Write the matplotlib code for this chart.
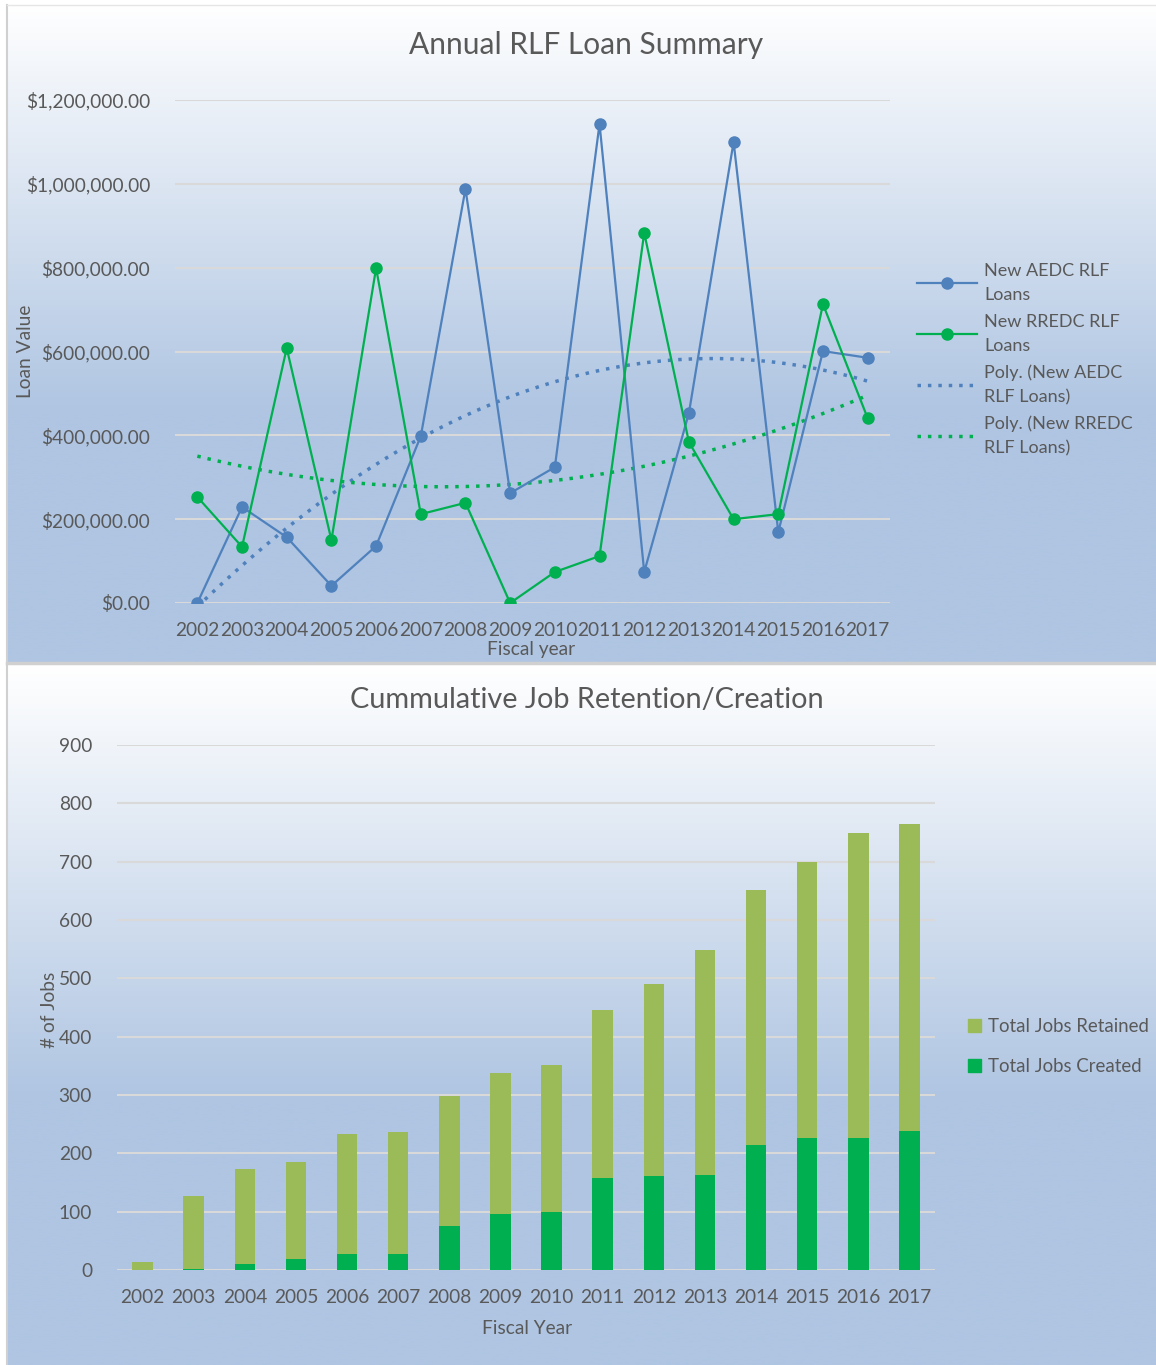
import numpy as np
import matplotlib
matplotlib.use("Agg")
import matplotlib.pyplot as plt
from matplotlib.colors import LinearSegmentedColormap
from matplotlib.lines import Line2D
from matplotlib.patches import Patch

plt.rcParams['font.family'] = ['Lato', 'DejaVu Sans']

years = [str(y) for y in range(2002, 2018)]

# annual loan values
aedc_loans = [0, 229000, 157000, 41000, 136000, 398000, 988000, 262000,
              324000, 1143000, 74000, 453000, 1100000, 169000, 601000, 585000]
rredc_loans = [253000, 134000, 608000, 150000, 799000, 212000, 239000, 0,
               74000, 112000, 883000, 384000, 200000, 212000, 713000, 441000]

# cumulative jobs
jobs_created = [0, 2, 10, 19, 27, 27, 76, 96, 99, 158, 161, 163, 215, 226, 226, 238]
jobs_total = [13, 127, 174, 185, 234, 237, 299, 338, 352, 445, 490, 548, 651, 700, 749, 764]
jobs_retained = [t - c for t, c in zip(jobs_total, jobs_created)]

blue = '#4f81bd'
green = '#00b050'
olive = '#9bbb59'
txt = '#595959'
grid = '#d9d9d9'
bg_blue = '#afc5e2'

W, H = 1156, 1365
fig = plt.figure(figsize=(W / 100, H / 100), dpi=100)
fig.patch.set_facecolor('white')

cmap = LinearSegmentedColormap.from_list('bg', [(0, 'white'), (0.62, bg_blue), (1, bg_blue)])


def panel(y0, y1):
    # gradient background in pixel coords (top y0, bottom y1)
    ax = fig.add_axes([7 / W, 1 - y1 / H, 1 - 7 / W, (y1 - y0) / H], zorder=0)
    grad = np.linspace(0, 1, 256).reshape(-1, 1)
    ax.imshow(grad, aspect='auto', cmap=cmap, extent=[0, 1, 0, 1], origin='upper')
    ax.set_axis_off()
    return ax


def ftext(px, py, s, **kw):
    fig.text(px / W, 1 - py / H, s, color=txt, ha='center', va='center', **kw)


panel(5, 662)
panel(665, 1365)
fig.add_artist(Line2D([7 / W, 7 / W], [0, 1 - 5 / H], color='#d0d0d0', lw=1.5))
fig.add_artist(Line2D([7 / W, 1], [1 - 663 / H, 1 - 663 / H], color='#d0d0d0', lw=2.5))
fig.add_artist(Line2D([7 / W, 1], [1 - 5 / H, 1 - 5 / H], color='#e6e6e6', lw=1))

# ---------- top chart ----------
ax1 = fig.add_axes([175 / W, 1 - 603 / H, 715 / W, 503 / H], zorder=2)
ax1.patch.set_alpha(0)
x = np.arange(len(years))
ax1.plot(x, aedc_loans, color=blue, lw=1.6, marker='o', ms=8, label='New AEDC RLF\nLoans', zorder=4)
ax1.plot(x, rredc_loans, color=green, lw=1.6, marker='o', ms=8, label='New RREDC RLF\nLoans', zorder=4)
xs = np.linspace(0, len(years) - 1, 200)
pa = np.polyfit(x, aedc_loans, 2)
pr = np.polyfit(x, rredc_loans, 2)
ax1.plot(xs, np.polyval(pa, xs), color=blue, lw=2.5, ls=(0, (1, 2)), label='Poly. (New AEDC\nRLF Loans)', zorder=3)
ax1.plot(xs, np.polyval(pr, xs), color=green, lw=2.5, ls=(0, (1, 2)), label='Poly. (New RREDC\nRLF Loans)', zorder=3)
ax1.set_xlim(-0.5, len(years) - 0.5)
ax1.set_ylim(0, 1200000)
ax1.set_yticks(np.arange(0, 1200001, 200000))
ax1.set_yticklabels(['${:,.2f}'.format(v) for v in np.arange(0, 1200001, 200000)])
ax1.set_xticks(x)
ax1.set_xticklabels(years)
ax1.grid(axis='y', color=grid, lw=1.5)
ax1.set_axisbelow(True)
for s in ax1.spines.values():
    s.set_visible(False)
ax1.tick_params(length=0, colors=txt, labelsize=13.8)
ax1.tick_params(axis='y', pad=18)
ax1.tick_params(axis='x', pad=14)
ftext(586, 45, 'Annual RLF Loan Summary', fontsize=21.5)
ftext(26, 351, 'Loan Value', fontsize=13.8, rotation=90)
ftext(531, 649, 'Fiscal year', fontsize=13.8)
leg = ax1.legend(loc='upper left', bbox_to_anchor=(1.028, 0.69), frameon=False, fontsize=13,
                 labelcolor=txt, handlelength=3.3, handletextpad=0.4, labelspacing=0.6,
                 borderaxespad=0)
for t in leg.get_texts():
    t.set_linespacing(1.6)

# ---------- bottom chart ----------
ax2 = fig.add_axes([117 / W, 1 - 1270 / H, 818 / W, 525 / H], zorder=2)
ax2.patch.set_alpha(0)
ax2.bar(x, jobs_created, width=0.4, color=green, label='Total Jobs Created', zorder=3)
ax2.bar(x, jobs_retained, width=0.4, bottom=jobs_created, color=olive, label='Total Jobs Retained', zorder=3)
ax2.set_xlim(-0.5, len(years) - 0.5)
ax2.set_ylim(0, 900)
ax2.set_yticks(range(0, 901, 100))
ax2.set_xticks(x)
ax2.set_xticklabels(years)
ax2.grid(axis='y', color=grid, lw=1.5)
ax2.set_axisbelow(True)
for s in ax2.spines.values():
    s.set_visible(False)
ax2.tick_params(length=0, colors=txt, labelsize=13.8)
ax2.tick_params(axis='y', pad=18)
ax2.tick_params(axis='x', pad=14)
ftext(587, 700, 'Cummulative Job Retention/Creation', fontsize=20.8)
ftext(50, 1010, '# of Jobs', fontsize=13.8, rotation=90)
ftext(527, 1329, 'Fiscal Year', fontsize=13.8)
handles = [Patch(color=olive), Patch(color=green)]
ax2.legend(handles, ['Total Jobs Retained', 'Total Jobs Created'], loc='upper left',
           bbox_to_anchor=(1.031, 0.495), frameon=False, fontsize=13.4, labelcolor=txt,
           handlelength=0.7, handleheight=0.7, handletextpad=0.4, labelspacing=1.25, borderaxespad=0)

fig.savefig('out.png', dpi=100)
